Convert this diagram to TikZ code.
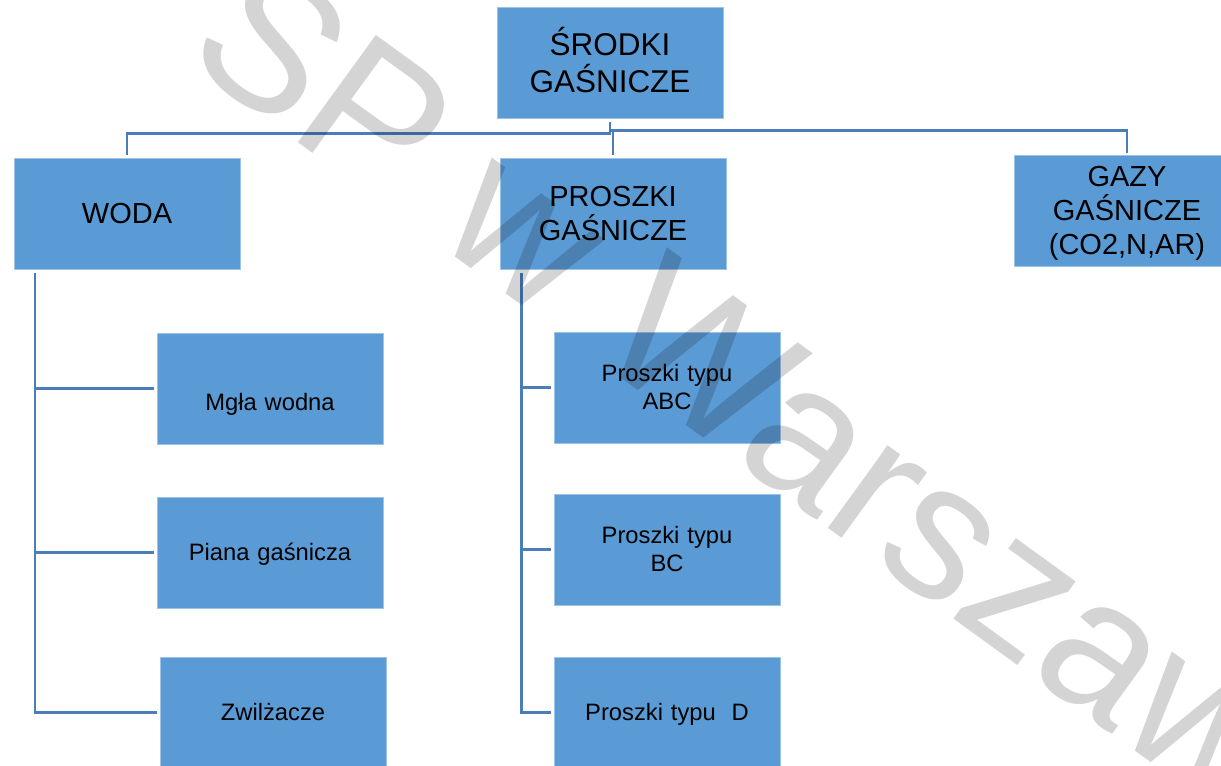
\documentclass[tikz,border=0pt]{standalone}
\usepackage{fontspec}
\setmainfont{Liberation Sans}
\newfontfamily\wmfont{Liberation Sans}
\usetikzlibrary{calc}
\definecolor{boxblue}{HTML}{5B9BD5}
\definecolor{lineblue}{HTML}{4A7EBB}
\definecolor{edgeblue}{HTML}{9DC3E6}
\begin{document}
\begin{tikzpicture}[x=0.75pt, y=-0.75pt,
  box/.style={rectangle, fill=boxblue, draw=edgeblue, line width=0.5pt,
    inner sep=0pt, minimum width=169.5pt, minimum height=83.25pt,
    text width=169.5pt, align=center, text=black},
  topbox/.style={box, font=\fontsize{23.6}{27.75}\selectfont, text height=16.9pt},
  midbox/.style={box, font=\fontsize{21.75}{25.5}\selectfont, text height=15.6pt},
  leafbox/.style={box, font=\fontsize{17.8}{21}\selectfont, text height=12.7pt},
  conn/.style={draw=lineblue, line width=1.8pt},
  watermark/.style={font=\wmfont\fontsize{144.75}{150}\selectfont, text=black,
    text opacity=0.17, inner sep=0pt, anchor=base west, rotate=-36}]
\useasboundingbox (0,0) rectangle (1221,765);
\fill[white] (0,0) rectangle (1221,765);
\clip (0,0) rectangle (1221,765);

% boxes
\node[topbox, text depth=27.75pt] (root) at (610,62.5) {ŚRODKI\\GAŚNICZE};
\node[midbox, text depth=0pt] (woda) at (127,213.5) {WODA};
\node[midbox, text depth=25.5pt] (proszki) at (613,213.5) {PROSZKI\\GAŚNICZE};
\node[midbox, text depth=51pt] (gazy) at (1127,210.5) {GAZY\\GAŚNICZE\\(CO2,N,AR)};

\node[leafbox, text depth=21pt] (mgla) at (270,388.5) {\mbox{}\\Mgła wodna};
\node[leafbox, text depth=0pt] (piana) at (270,552.5) {Piana gaśnicza};
\node[leafbox, text depth=0pt] (zwil) at (273,712.5) {Zwilżacze};

\node[leafbox, text depth=21pt] (abc) at (667,387.5) {Proszki typu\\ABC};
\node[leafbox, text depth=21pt] (bc) at (667,549.5) {Proszki typu\\BC};
\node[leafbox, text depth=0pt] (d) at (667,712.5) {Proszki typu\ \ D};

% connectors level 1 -> 2
\draw[conn] ($(root.south)+(0,4)$) -- ++(0,11) -| ($(woda.north)+(0,-3)$);
\draw[conn] ($(root.south)+(0,4)$) -- ++(0,8) -| ($(proszki.north)+(0,-3)$);
\draw[conn] ($(root.south)+(0,4)$) -- ++(0,8) -| ($(gazy.north)+(0,-2)$);

% connectors level 2 -> 3
\draw[conn] ($(woda.south west)+(21.6,4)$) |- ($(mgla.west)+(-3,0)$);
\draw[conn] ($(woda.south west)+(21.6,4)$) |- ($(piana.west)+(-3,0)$);
\draw[conn] ($(woda.south west)+(21.6,4)$) |- ($(zwil.west)+(-3,0)$);
\draw[conn] ($(proszki.south west)+(21.7,4)$) |- ($(abc.west)+(-3,0)$);
\draw[conn] ($(proszki.south west)+(21.7,4)$) |- ($(bc.west)+(-3,0)$);
\draw[conn] ($(proszki.south west)+(21.7,4)$) |- ($(d.west)+(-3,0)$);

% watermark
\node[watermark] (wm) at (181,58) {SP w Warszawie};
\end{tikzpicture}
\end{document}
